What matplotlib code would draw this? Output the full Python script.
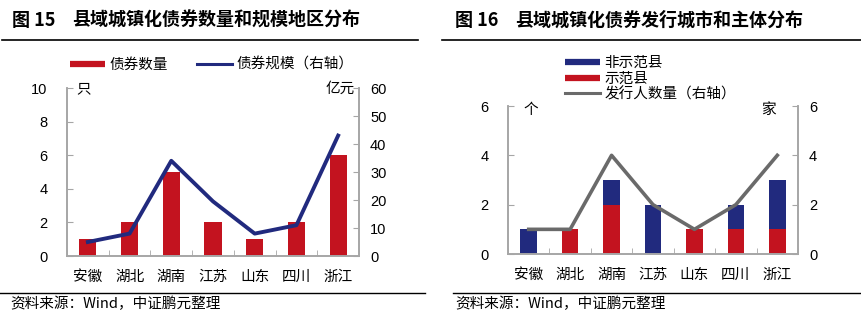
import matplotlib
matplotlib.use('Agg')
import matplotlib.pyplot as plt
from matplotlib.lines import Line2D
import numpy as np

plt.rcParams['font.family'] = ['Liberation Sans', 'Noto Sans CJK SC']
plt.rcParams['axes.linewidth'] = 1.2
plt.rcParams['xtick.labelsize'] = 10.5
plt.rcParams['ytick.labelsize'] = 10.5

# ---- data ----
provinces = ['安徽', '湖北', '湖南', '江苏', '山东', '四川', '浙江']
bond_count = [1, 2, 5, 2, 1, 2, 6]            # 只
bond_scale = [5, 8, 34, 19.5, 8, 11, 43]      # 亿元
demo_county = [0, 1, 2, 0, 1, 1, 1]           # 示范县
non_demo_county = [1, 0, 1, 2, 0, 1, 2]       # 非示范县
issuer_count = [1, 1, 4, 2, 1, 2, 4]          # 家

red = '#C3131F'
navy = '#212A7E'
gray_line = '#6A6A6A'
spine_c = '#A6A6A6'

W, H = 861, 322
fig = plt.figure(figsize=(W / 100, H / 100), dpi=100)


def fx(px):
    return px / W


def fy(py):
    return 1 - py / H


def style_axes(ax, ax2):
    for a in (ax, ax2):
        for s in a.spines.values():
            s.set_color(spine_c)
        a.spines['top'].set_visible(False)
    ax.tick_params(axis='y', direction='in', length=4, color=spine_c, pad=14)
    ax2.tick_params(axis='y', direction='in', length=4, color=spine_c, pad=8)
    ax.tick_params(axis='x', which='major', length=0, pad=10)
    ax.tick_params(axis='x', which='minor', direction='in', length=4, color=spine_c)


x = np.arange(len(provinces))

# ---- left chart ----
axL = fig.add_axes([fx(67), fy(256), fx(359 - 67), (256 - 88) / H])
axL.bar(x, bond_count, width=0.41, color=red, zorder=2)
axL.set_xlim(-0.5, len(provinces) - 0.5)
axL.set_ylim(0, 10)
axL.set_yticks(range(0, 11, 2))
axL.set_xticks(x)
axL.set_xticklabels(provinces)
axL.set_xticks(np.arange(-0.5, len(provinces), 1), minor=True)
axL2 = axL.twinx()
axL2.plot(x, bond_scale, color=navy, lw=2.8, zorder=3)
axL2.set_ylim(0, 60)
axL2.set_yticks(range(0, 61, 10))
style_axes(axL, axL2)
fig.text(fx(76), fy(89), '只', fontsize=10.5, va='center')
fig.text(fx(355), fy(89), '亿元', fontsize=10.5, va='center', ha='right')

legL = [Line2D([], [], color=red, lw=4.5, solid_capstyle='butt'),
        Line2D([], [], color=navy, lw=2.2)]
fig.legend(legL, ['债券数量', '债券规模（右轴）'], ncol=2, frameon=False,
           loc='center', bbox_to_anchor=(fx(212), fy(65)), fontsize=10.5,
           handlelength=2.4, columnspacing=2.0, handletextpad=0.3)

# ---- right chart ----
axR = fig.add_axes([fx(508), fy(254), fx(798 - 508), (254 - 106) / H])
axR.bar(x, demo_county, width=0.40, color=red, zorder=2)
axR.bar(x, non_demo_county, width=0.40, bottom=demo_county, color=navy, zorder=2)
axR.set_xlim(-0.5, len(provinces) - 0.5)
axR.set_ylim(0, 6)
axR.set_yticks(range(0, 7, 2))
axR.set_xticks(x)
axR.set_xticklabels(provinces)
axR.set_xticks(np.arange(-0.5, len(provinces), 1), minor=True)
axR2 = axR.twinx()
axR2.plot(x, issuer_count, color=gray_line, lw=2.6, zorder=3)
axR2.set_ylim(0, 6)
axR2.set_yticks(range(0, 7, 2))
style_axes(axR, axR2)
fig.text(fx(523), fy(110), '个', fontsize=10.5, va='center')
fig.text(fx(776), fy(110), '家', fontsize=10.5, va='center', ha='right')

legR = [Line2D([], [], color=navy, lw=4.5, solid_capstyle='butt'),
        Line2D([], [], color=red, lw=4.5, solid_capstyle='butt'),
        Line2D([], [], color=gray_line, lw=2.2)]
fig.legend(legR, ['非示范县', '示范县', '发行人数量（右轴）'], ncol=1, frameon=False,
           loc='upper left', bbox_to_anchor=(fx(558), fy(49)), fontsize=10.5,
           handlelength=2.4, handletextpad=0.3, labelspacing=0.1, borderpad=0)

# ---- titles, rules, source ----
title_kw = dict(fontsize=13, fontweight='bold', va='center', family=['Noto Sans CJK SC'])
fig.text(fx(12), fy(20), '图 15', **title_kw)
fig.text(fx(72), fy(20), '县域城镇化债券数量和规模地区分布', **title_kw)
fig.text(fx(455), fy(20), '图 16', **title_kw)
fig.text(fx(515), fy(20), '县域城镇化债券发行城市和主体分布', **title_kw)

fig.add_artist(Line2D([fx(2), fx(418)], [fy(40), fy(40)], color='black', lw=1.2))
fig.add_artist(Line2D([fx(442), fx(861)], [fy(40), fy(40)], color='black', lw=1.2))
fig.add_artist(Line2D([fx(0), fx(425)], [fy(293), fy(293)], color='black', lw=1.0))
fig.add_artist(Line2D([fx(453), fx(861)], [fy(293), fy(293)], color='black', lw=1.0))

src_kw = dict(fontsize=10.5, va='center', family=['Noto Sans CJK SC'])
fig.text(fx(10), fy(304), '资料来源：Wind，中证鹏元整理', **src_kw)
fig.text(fx(455), fy(304), '资料来源：Wind，中证鹏元整理', **src_kw)

fig.savefig('out.png', dpi=100)
